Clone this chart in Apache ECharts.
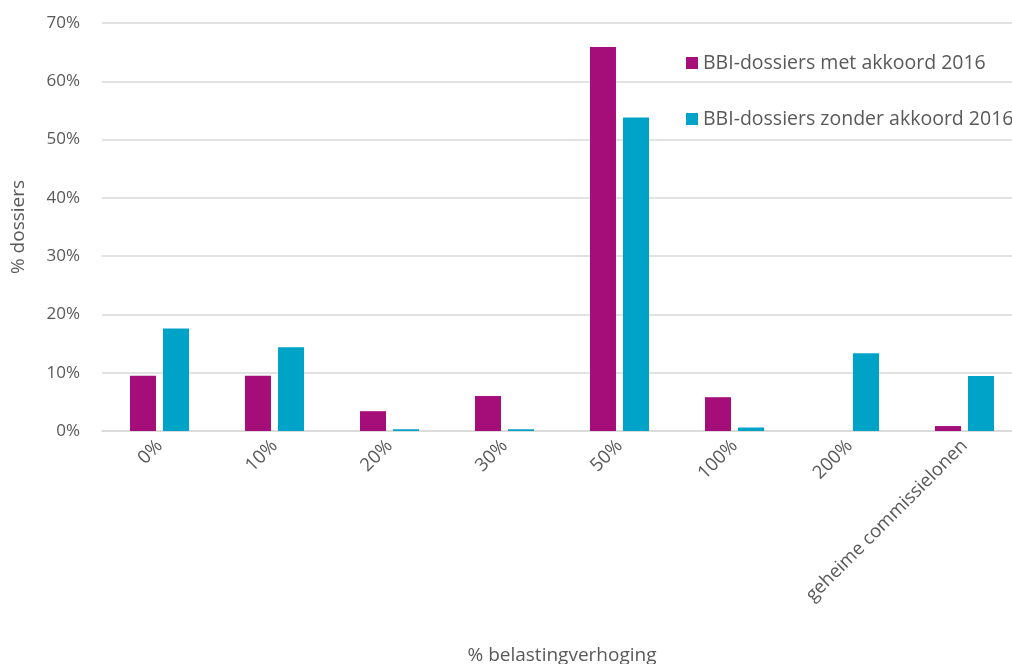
<!DOCTYPE html>
<html><head><meta charset="utf-8">
<script src="https://cdn.jsdelivr.net/npm/echarts@6/dist/echarts.min.js"></script>
<style>html,body{margin:0;padding:0;background:#fff}#c{width:1012px;height:664px}</style>
</head><body><div id="c"></div>
<script>
const categories = ['0%', '10%', '20%', '30%', '50%', '100%', '200%', 'geheime commissielonen'];
const metAkkoord = [9.5, 9.5, 3.4, 6.0, 65.9, 5.8, 0, 0.85];
const zonderAkkoord = [17.6, 14.35, 0.3, 0.3, 53.8, 0.6, 13.35, 9.45];
const seriesNames = ['BBI-dossiers met akkoord 2016', 'BBI-dossiers zonder akkoord 2016'];
const yTicks = [0, 10, 20, 30, 40, 50, 60, 70];

const font = '"Open Sans", sans-serif';
const chart = echarts.init(document.getElementById('c'));
chart.setOption({
  animation: false,
  textStyle: { fontFamily: font },
  grid: { left: 102, width: 920, top: 23, bottom: 233, outerBoundsMode: 'none', containLabel: false },
  legend: {
    orient: 'vertical', left: 681, top: 48, itemGap: 36,
    itemWidth: 12, itemHeight: 12, icon: 'rect',
    textStyle: { fontSize: 19.5, color: '#595959', fontFamily: font },
    data: seriesNames
  },
  xAxis: {
    type: 'category', data: categories,
    name: '% belastingverhoging', nameLocation: 'middle', nameGap: 215,
    nameTextStyle: { fontSize: 19, color: '#595959' },
    axisLine: { lineStyle: { color: '#D9D9D9', width: 1.5 } },
    axisTick: { show: false },
    axisLabel: { rotate: 45, fontSize: 18.5, color: '#595959', margin: 12, interval: 0 }
  },
  yAxis: {
    type: 'value', min: 0, max: 70, interval: 10,
    name: '% dossiers', nameLocation: 'middle', nameGap: 74,
    nameTextStyle: { fontSize: 19, color: '#595959' },
    axisLine: { show: false }, axisTick: { show: false },
    axisLabel: { fontSize: 17, color: '#595959', margin: 22, formatter: v => yTicks.includes(v) ? v + '%' : '' },
    splitLine: { lineStyle: { color: '#D9D9D9', width: 1.5 } }
  },
  series: [
    { name: seriesNames[0], type: 'bar', data: metAkkoord, barWidth: 26, barGap: '27%',
      itemStyle: { color: '#A50E78' } },
    { name: seriesNames[1], type: 'bar', data: zonderAkkoord, barWidth: 26,
      itemStyle: { color: '#00A3C8' } }
  ]
});
</script></body></html>
